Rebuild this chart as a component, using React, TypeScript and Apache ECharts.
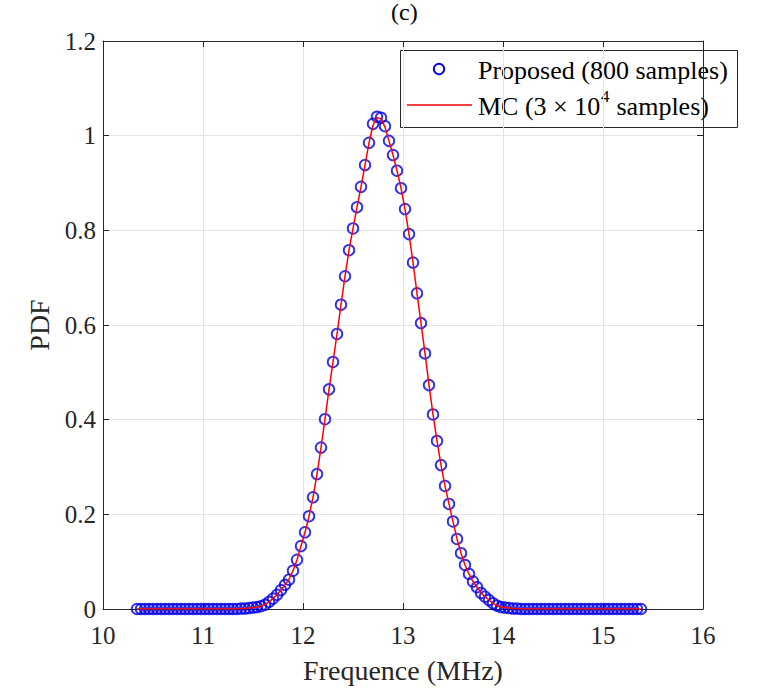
import React, { useEffect, useRef } from "react";
import * as echarts from "echarts";

// Frequency grid of the "Proposed" estimate (MHz)
const frequency = [
  10.34, 10.38, 10.42, 10.46, 10.5, 10.54, 10.58, 10.62, 10.66, 10.7,
  10.74, 10.78, 10.82, 10.86, 10.9, 10.94, 10.98, 11.02, 11.06, 11.1,
  11.14, 11.18, 11.22, 11.26, 11.3, 11.34, 11.38, 11.42, 11.46, 11.5,
  11.54, 11.58, 11.62, 11.66, 11.7, 11.74, 11.78, 11.82, 11.86, 11.9,
  11.94, 11.98, 12.02, 12.06, 12.1, 12.14, 12.18, 12.22, 12.26, 12.3,
  12.34, 12.38, 12.42, 12.46, 12.5, 12.54, 12.58, 12.62, 12.66, 12.7,
  12.74, 12.78, 12.82, 12.86, 12.9, 12.94, 12.98, 13.02, 13.06, 13.1,
  13.14, 13.18, 13.22, 13.26, 13.3, 13.34, 13.38, 13.42, 13.46, 13.5,
  13.54, 13.58, 13.62, 13.66, 13.7, 13.74, 13.78, 13.82, 13.86, 13.9,
  13.94, 13.98, 14.02, 14.06, 14.1, 14.14, 14.18, 14.22, 14.26, 14.3,
  14.34, 14.38, 14.42, 14.46, 14.5, 14.54, 14.58, 14.62, 14.66, 14.7,
  14.74, 14.78, 14.82, 14.86, 14.9, 14.94, 14.98, 15.02, 15.06, 15.1,
  15.14, 15.18, 15.22, 15.26, 15.3, 15.34, 15.38,
];

// PDF of the proposed method (800 samples)
const proposedPdf = [
  0, 0, 0, 0, 0, 0, 0, 0, 0, 0,
  0, 0, 0, 0, 0, 0, 0, 0, 0, 0,
  0, 0, 0, 0, 0, 0, 0.001, 0.001, 0.002, 0.003,
  0.004, 0.006, 0.009, 0.015, 0.022, 0.03, 0.04, 0.051, 0.062, 0.081,
  0.104, 0.133, 0.162, 0.196, 0.236, 0.285, 0.341, 0.401, 0.464, 0.522,
  0.581, 0.643, 0.703, 0.758, 0.804, 0.849, 0.892, 0.938, 0.985, 1.025,
  1.04, 1.038, 1.02, 0.989, 0.959, 0.926, 0.889, 0.845, 0.792, 0.732,
  0.667, 0.604, 0.54, 0.473, 0.411, 0.355, 0.304, 0.26, 0.222, 0.185,
  0.148, 0.118, 0.093, 0.074, 0.058, 0.046, 0.034, 0.026, 0.019, 0.012,
  0.007, 0.004, 0.003, 0.002, 0.001, 0.001, 0, 0, 0, 0,
  0, 0, 0, 0, 0, 0, 0, 0, 0, 0,
  0, 0, 0, 0, 0, 0, 0, 0, 0, 0,
  0, 0, 0, 0, 0, 0, 0,
];

// PDF from Monte Carlo (3x10^4 samples), read on the same grid
const mcPdf = [
  0, 0, 0, 0, 0, 0, 0, 0, 0, 0,
  0, 0, 0, 0, 0, 0, 0, 0, 0, 0,
  0, 0, 0, 0, 0, 0, 0.001, 0.001, 0.002, 0.003,
  0.004, 0.006, 0.009, 0.015, 0.022, 0.03, 0.04, 0.051, 0.063, 0.081,
  0.104, 0.133, 0.162, 0.196, 0.236, 0.285, 0.341, 0.401, 0.464, 0.522,
  0.581, 0.643, 0.703, 0.758, 0.804, 0.849, 0.892, 0.938, 0.985, 1.022,
  1.038, 1.036, 1.018, 0.989, 0.959, 0.926, 0.889, 0.845, 0.792, 0.732,
  0.667, 0.604, 0.54, 0.473, 0.411, 0.355, 0.304, 0.26, 0.222, 0.185,
  0.148, 0.118, 0.093, 0.074, 0.058, 0.046, 0.034, 0.026, 0.019, 0.012,
  0.007, 0.004, 0.003, 0.002, 0.001, 0.001, 0, 0, 0, 0,
  0, 0, 0, 0, 0, 0, 0, 0, 0, 0,
  0, 0, 0, 0, 0, 0, 0, 0, 0, 0,
  0, 0, 0, 0, 0, 0, 0,
];

const xMin = 10;
const xMax = 16;
const xStep = 1;
const yMin = 0;
const yMax = 1.2;
const yStep = 0.2;

export default function App() {
  const ref = useRef<HTMLDivElement>(null);

  useEffect(() => {
    if (!ref.current) return;
    const chart = echarts.init(ref.current, null, { renderer: "svg" });
    const serif = '"Liberation Serif", "Times New Roman", Times, serif';
    const axisColor = "#262626";
    const gridColor = "#e4e4e4";
    const blue = "#0000e6";
    const red = "#ff0000";

    const hiddenAxisBase = {
      axisLine: { show: true, onZero: false, lineStyle: { color: axisColor, width: 1 } },
      axisTick: { show: true, inside: true, length: 6, lineStyle: { color: axisColor } },
      axisLabel: { show: false },
      splitLine: { show: false },
    };

    chart.setOption({
      animation: false,
      backgroundColor: "#ffffff",
      title: {
        text: "(c)",
        left: 391,
        top: 0,
        padding: 0,
        textStyle: { fontFamily: serif, fontSize: 24, fontWeight: "normal", color: "#000" },
      },
      grid: { left: 103, right: 56, top: 41, bottom: 81, containLabel: false },
      xAxis: [
        {
          type: "value",
          position: "bottom",
          min: xMin,
          max: xMax,
          interval: xStep,
          name: "Frequence (MHz)",
          nameLocation: "middle",
          nameGap: 47,
          nameTextStyle: { fontFamily: serif, fontSize: 28, color: axisColor },
          axisLine: { show: true, onZero: false, lineStyle: { color: axisColor, width: 1 } },
          axisTick: { show: true, inside: true, length: 6, lineStyle: { color: axisColor } },
          axisLabel: { fontFamily: serif, fontSize: 25, color: axisColor, margin: 14 },
          splitLine: { show: true, lineStyle: { color: gridColor, width: 1 } },
        },
        {
          type: "value",
          position: "top",
          min: xMin,
          max: xMax,
          interval: xStep,
          ...hiddenAxisBase,
        },
      ],
      yAxis: [
        {
          type: "value",
          position: "left",
          min: yMin,
          max: yMax,
          interval: yStep,
          name: "PDF",
          nameLocation: "middle",
          nameGap: 50,
          nameTextStyle: { fontFamily: serif, fontSize: 28, color: axisColor },
          axisLine: { show: true, onZero: false, lineStyle: { color: axisColor, width: 1 } },
          axisTick: { show: true, inside: true, length: 6, lineStyle: { color: axisColor } },
          axisLabel: { fontFamily: serif, fontSize: 25, color: axisColor, margin: 7 },
          splitLine: { show: true, lineStyle: { color: gridColor, width: 1 } },
        },
        {
          type: "value",
          position: "right",
          min: yMin,
          max: yMax,
          interval: yStep,
          ...hiddenAxisBase,
        },
      ],
      series: [
        {
          name: "Proposed (800 samples)",
          type: "scatter",
          data: frequency.map((f, i) => [f, proposedPdf[i]]),
          symbol: "circle",
          symbolSize: 10.5,
          itemStyle: { color: "rgba(0,0,0,0)", borderColor: blue, borderWidth: 1.9 },
          z: 2,
        },
        {
          name: "MC (3×10^4 samples)",
          type: "line",
          data: frequency.map((f, i) => [f, mcPdf[i]]),
          symbol: "none",
          showSymbol: false,
          lineStyle: { color: red, width: 1.5 },
          z: 3,
        },
      ],
      graphic: [
        {
          type: "group",
          z: 100,
          children: [
            {
              type: "rect",
              shape: { x: 400.5, y: 50.5, width: 337, height: 77 },
              style: { fill: "#ffffff", stroke: axisColor, lineWidth: 1 },
            },
            {
              type: "circle",
              shape: { cx: 439, cy: 69, r: 5.2 },
              style: { fill: "none", stroke: blue, lineWidth: 1.9 },
            },
            {
              type: "text",
              x: 478,
              y: 70,
              style: {
                text: "Proposed (800 samples)",
                fontFamily: serif,
                fontSize: 26,
                fill: "#000",
                textVerticalAlign: "middle",
              },
            },
            {
              type: "line",
              shape: { x1: 407, y1: 105, x2: 472, y2: 105 },
              style: { stroke: red, lineWidth: 1.5 },
            },
            {
              type: "text",
              x: 478,
              y: 106,
              style: {
                text: "MC (3 × 10",
                fontFamily: serif,
                fontSize: 26,
                fill: "#000",
                textVerticalAlign: "middle",
              },
            },
            {
              type: "text",
              x: 601,
              y: 96,
              style: {
                text: "4",
                fontFamily: serif,
                fontSize: 17,
                fill: "#000",
                textVerticalAlign: "middle",
              },
            },
            {
              type: "text",
              x: 610,
              y: 106,
              style: {
                text: " samples)",
                fontFamily: serif,
                fontSize: 26,
                fill: "#000",
                textVerticalAlign: "middle",
              },
            },
          ],
        },
      ],
    });

    return () => chart.dispose();
  }, []);

  return (
    <div
      ref={ref}
      style={{ position: "fixed", left: 0, top: 0, width: 759, height: 690, background: "#fff" }}
    />
  );
}
